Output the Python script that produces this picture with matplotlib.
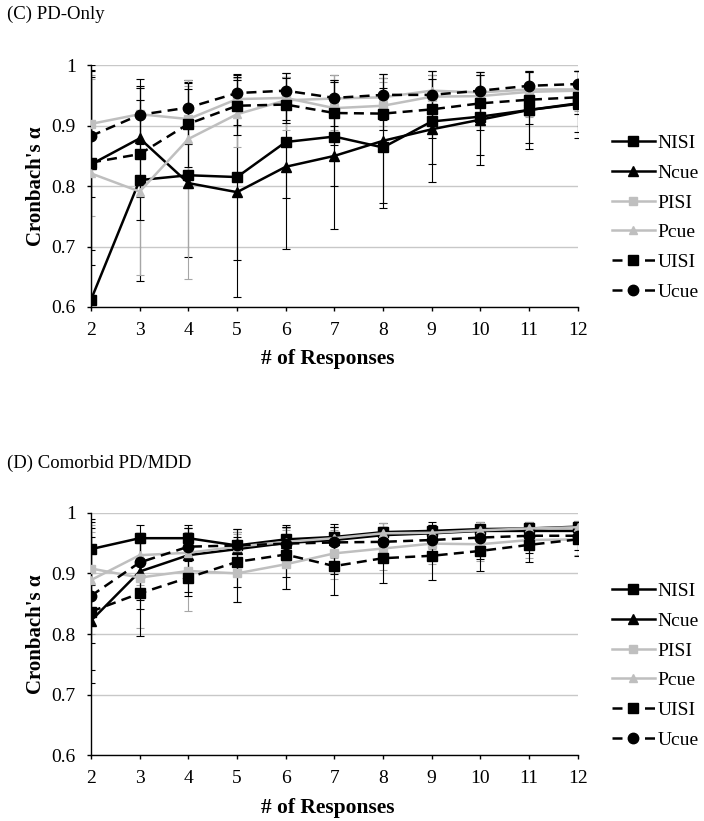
import matplotlib
matplotlib.use('Agg')
import matplotlib.pyplot as plt
import numpy as np

plt.rcParams['font.family'] = ['Liberation Serif', 'DejaVu Serif']

responses = [2, 3, 4, 5, 6, 7, 8, 9, 10, 11, 12]
series_names = ['NISI', 'Ncue', 'PISI', 'Pcue', 'UISI', 'Ucue']

# (C) PD-Only : alpha and CI bounds
c_alpha = {
    'NISI': [0.612, 0.810, 0.818, 0.815, 0.873, 0.882, 0.864, 0.907, 0.915, 0.926, 0.937],
    'Ncue': [0.836, 0.879, 0.805, 0.790, 0.832, 0.850, 0.875, 0.894, 0.910, 0.926, 0.936],
    'PISI': [0.903, 0.919, 0.911, 0.944, 0.946, 0.929, 0.933, 0.948, 0.949, 0.956, 0.958],
    'Pcue': [0.821, 0.791, 0.878, 0.919, 0.942, 0.945, 0.947, 0.958, 0.955, 0.960, 0.960],
    'UISI': [0.839, 0.853, 0.903, 0.933, 0.935, 0.921, 0.920, 0.927, 0.937, 0.943, 0.947],
    'Ucue': [0.883, 0.918, 0.930, 0.954, 0.958, 0.946, 0.951, 0.951, 0.958, 0.966, 0.969],
}
c_low = {
    'NISI': [0.560, 0.643, 0.683, 0.678, 0.781, 0.800, 0.764, 0.806, 0.835, 0.862, 0.879],
    'Ncue': [0.669, 0.782, 0.797, 0.617, 0.696, 0.729, 0.772, 0.836, 0.852, 0.872, 0.889],
    'PISI': [0.840, 0.870, 0.870, 0.900, 0.904, 0.893, 0.893, 0.910, 0.912, 0.920, 0.925],
    'Pcue': [0.750, 0.653, 0.646, 0.865, 0.893, 0.876, 0.900, 0.905, 0.905, 0.915, 0.920],
    'UISI': [0.694, 0.744, 0.832, 0.884, 0.904, 0.868, 0.893, 0.879, 0.893, 0.902, 0.920],
    'Ucue': [0.782, 0.870, 0.870, 0.901, 0.909, 0.900, 0.910, 0.915, 0.920, 0.930, 0.935],
}
c_high = {
    'NISI': [0.991, 0.978, 0.975, 0.986, 0.987, 0.984, 0.985, 0.990, 0.989, 0.991, 0.991],
    'Ncue': [0.981, 0.966, 0.972, 0.981, 0.981, 0.976, 0.979, 0.984, 0.984, 0.989, 0.991],
    'PISI': [0.984, 0.962, 0.965, 0.976, 0.979, 0.973, 0.973, 0.978, 0.984, 0.989, 0.991],
    'Pcue': [0.978, 0.943, 0.975, 0.979, 0.981, 0.984, 0.979, 0.984, 0.989, 0.991, 0.991],
    'UISI': [0.992, 0.962, 0.960, 0.976, 0.979, 0.973, 0.962, 0.978, 0.984, 0.989, 0.991],
    'Ucue': [1.000, 0.943, 0.970, 0.984, 0.987, 0.976, 0.985, 0.990, 0.989, 0.991, 0.991],
}

# (D) Comorbid PD/MDD
d_alpha = {
    'NISI': [0.940, 0.958, 0.958, 0.946, 0.956, 0.960, 0.968, 0.970, 0.973, 0.974, 0.977],
    'Ncue': [0.822, 0.903, 0.930, 0.940, 0.950, 0.955, 0.963, 0.966, 0.970, 0.970, 0.970],
    'PISI': [0.908, 0.893, 0.904, 0.900, 0.915, 0.933, 0.941, 0.949, 0.948, 0.955, 0.956],
    'Pcue': [0.889, 0.930, 0.934, 0.944, 0.952, 0.958, 0.966, 0.967, 0.971, 0.974, 0.976],
    'UISI': [0.837, 0.867, 0.893, 0.919, 0.931, 0.912, 0.925, 0.929, 0.937, 0.947, 0.956],
    'Ucue': [0.863, 0.918, 0.944, 0.946, 0.949, 0.951, 0.952, 0.955, 0.959, 0.962, 0.962],
}
d_low = {
    'NISI': [0.880, 0.920, 0.920, 0.905, 0.925, 0.930, 0.945, 0.948, 0.950, 0.955, 0.960],
    'Ncue': [0.719, 0.842, 0.870, 0.877, 0.894, 0.899, 0.925, 0.930, 0.940, 0.945, 0.950],
    'PISI': [0.830, 0.810, 0.838, 0.852, 0.875, 0.890, 0.905, 0.915, 0.920, 0.925, 0.930],
    'Pcue': [0.800, 0.880, 0.890, 0.900, 0.915, 0.925, 0.935, 0.940, 0.945, 0.950, 0.955],
    'UISI': [0.741, 0.796, 0.862, 0.852, 0.875, 0.864, 0.884, 0.889, 0.904, 0.919, 0.929],
    'Ucue': [0.785, 0.856, 0.900, 0.900, 0.910, 0.915, 0.920, 0.925, 0.923, 0.933, 0.938],
}
d_high = {
    'NISI': [0.990, 0.979, 0.979, 0.973, 0.980, 0.982, 0.983, 0.984, 0.984, 0.984, 0.987],
    'Ncue': [0.975, 0.966, 0.974, 0.969, 0.977, 0.976, 0.977, 0.980, 0.978, 0.979, 0.985],
    'PISI': [0.968, 0.955, 0.969, 0.965, 0.972, 0.972, 0.972, 0.976, 0.976, 0.979, 0.985],
    'Pcue': [0.980, 0.966, 0.974, 0.969, 0.975, 0.976, 0.983, 0.980, 0.984, 0.984, 0.987],
    'UISI': [0.960, 0.950, 0.955, 0.960, 0.965, 0.960, 0.965, 0.965, 0.970, 0.975, 0.980],
    'Ucue': [0.985, 0.966, 0.974, 0.973, 0.977, 0.976, 0.977, 0.980, 0.978, 0.979, 0.985],
}

# look of each series, Excel style
styles = {
    'NISI': dict(color='black', marker='s', ls='-', ms=7, ecol='black'),
    'Ncue': dict(color='black', marker='^', ls='-', ms=7, ecol='black'),
    'PISI': dict(color='#BFBFBF', marker='s', ls='-', ms=6, ecol='#A6A6A6'),
    'Pcue': dict(color='#BFBFBF', marker='^', ls='-', ms=6, ecol='#A6A6A6'),
    'UISI': dict(color='black', marker='s', ls=(0, (4, 2.5)), ms=7, ecol='black'),
    'Ucue': dict(color='black', marker='o', ls=(0, (4, 2.5)), ms=7.5, ecol='black'),
}


def draw_panel(ax, alpha, low, high):
    x = np.array(responses)
    for name in series_names:
        st = styles[name]
        a = np.array(alpha[name])
        lo = a - np.array(low[name])
        hi = np.array(high[name]) - a
        ax.errorbar(x, a, yerr=[lo, hi], fmt='none', ecolor=st['ecol'],
                    elinewidth=0.8, capsize=3, capthick=0.8, zorder=2)
    for name in series_names:
        st = styles[name]
        ax.plot(responses, alpha[name], color=st['color'], marker=st['marker'],
                linestyle=st['ls'], linewidth=1.8, markersize=st['ms'],
                label=name, zorder=3)

    ax.set_xlim(2, 12)
    ax.set_ylim(0.6, 1.0)
    ax.set_xticks(responses)
    ax.set_yticks([0.6, 0.7, 0.8, 0.9, 1.0])
    ax.set_yticklabels(['0.6', '0.7', '0.8', '0.9', '1'])
    ax.yaxis.grid(True, color='#C8C8C8', linewidth=1.0)
    ax.set_axisbelow(True)
    for s in ['top', 'right']:
        ax.spines[s].set_visible(False)
    ax.spines['left'].set_linewidth(1.0)
    ax.spines['bottom'].set_linewidth(1.0)
    ax.tick_params(axis='both', direction='out', length=3, width=1.0,
                   labelsize=14)
    ax.tick_params(axis='x', pad=7.5)
    ax.tick_params(axis='y', pad=8)
    ax.set_xlabel('# of Responses', fontsize=15.5, fontweight='bold')
    ax.xaxis.set_label_coords(0.486, -0.175)
    ax.set_ylabel("Cronbach's α", fontsize=15, fontweight='bold', va='center')
    ax.yaxis.set_label_coords(-0.113, 0.5)
    for lab in ax.get_xticklabels() + ax.get_yticklabels():
        lab.set_clip_on(False)
    ax.legend(loc='center left', bbox_to_anchor=(1.07, 0.370), frameon=False,
              fontsize=14, handlelength=2.2, handletextpad=0.15,
              labelspacing=0.62, borderpad=0, borderaxespad=0)


fig = plt.figure(figsize=(7.04, 8.21), dpi=100)
ax_c = fig.add_axes([0.1293, 0.6261, 0.6913, 0.2944])
ax_d = fig.add_axes([0.1293, 0.0800, 0.6913, 0.2955])

draw_panel(ax_c, c_alpha, c_low, c_high)
draw_panel(ax_d, d_alpha, d_low, d_high)

fig.text(0.010, 1 - 14 / 821, '(C) PD-Only', fontsize=13.5, va='center', ha='left')
fig.text(0.010, 1 - 463 / 821, '(D) Comorbid PD/MDD', fontsize=13.5, va='center', ha='left')

fig.savefig('out.png', dpi=100)
